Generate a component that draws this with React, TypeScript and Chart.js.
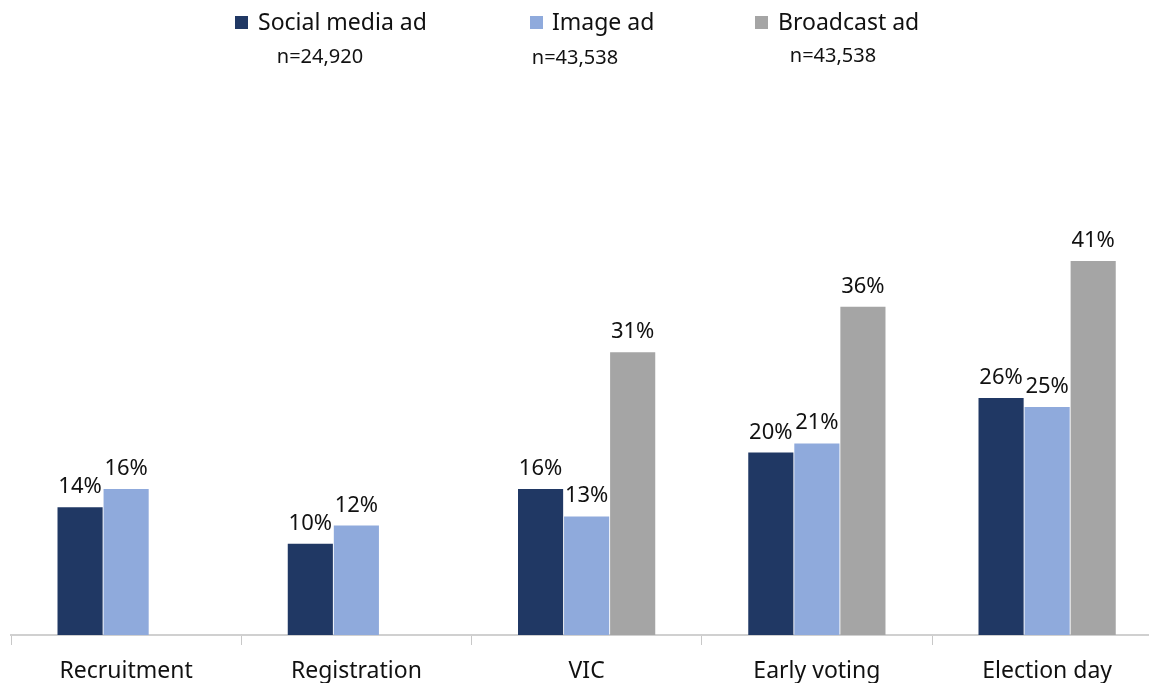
import React, { useEffect, useRef } from "react";
import { Chart, registerables } from "chart.js";

Chart.register(...registerables);

const categories = ["Recruitment", "Registration", "VIC", "Early voting", "Election day"];
const seriesNames = ["Social media ad", "Image ad", "Broadcast ad"];
const socialMedia = [14, 10, 16, 20, 26];
const imageAd = [16, 12, 13, 21, 25];
const broadcastAd = [null, null, 31, 36, 41];
const sampleSizes = ["n=24,920", "n=43,538", "n=43,538"];

const COLORS = ["#203864", "#8FAADC", "#A5A5A5"];
const FONT = "'Noto Sans', 'DejaVu Sans', sans-serif";
const TEXT = "#111111";

// layout constants (not data)
const CANVAS_W = 1175;
const CANVAS_H = 683;
const LEGEND_BOX_X = [235, 530, 755];
const LEGEND_TEXT_X = [258, 552, 778];
const LEGEND_BASELINE = 30;
const N_CENTER_X = [320, 575, 833];
const N_BASELINE = [63, 64, 62];

const legendPlugin = {
  id: "customLegend",
  afterDraw(chart: any) {
    const ctx = chart.ctx;
    ctx.save();
    chart.data.datasets.forEach((ds: any, i: number) => {
      ctx.fillStyle = ds.backgroundColor;
      ctx.fillRect(LEGEND_BOX_X[i], 16, 13, 13);
      ctx.fillStyle = TEXT;
      ctx.font = `23px ${FONT}`;
      ctx.textAlign = "left";
      ctx.textBaseline = "alphabetic";
      ctx.fillText(ds.label, LEGEND_TEXT_X[i], LEGEND_BASELINE);
      ctx.font = `20px ${FONT}`;
      ctx.textAlign = "center";
      ctx.fillText(sampleSizes[i], N_CENTER_X[i], N_BASELINE[i]);
    });
    ctx.restore();
  },
};

const valueLabelPlugin = {
  id: "valueLabels",
  afterDatasetsDraw(chart: any) {
    const ctx = chart.ctx;
    ctx.save();
    ctx.font = `22px ${FONT}`;
    ctx.fillStyle = TEXT;
    ctx.textAlign = "center";
    ctx.textBaseline = "alphabetic";
    chart.data.datasets.forEach((ds: any, i: number) => {
      const meta = chart.getDatasetMeta(i);
      meta.data.forEach((el: any, j: number) => {
        const v = ds.data[j];
        if (v === null || v === undefined) return;
        ctx.fillText(`${v}%`, el.x, el.y - 14);
      });
    });
    ctx.restore();
  },
};

export default function App() {
  const canvasRef = useRef<HTMLCanvasElement | null>(null);

  useEffect(() => {
    if (!canvasRef.current) return;
    const seriesData = [socialMedia, imageAd, broadcastAd];
    const chart = new Chart(canvasRef.current, {
      type: "bar",
      data: {
        labels: categories,
        datasets: seriesNames.map((name, i) => ({
          label: name,
          data: seriesData[i],
          backgroundColor: COLORS[i],
          borderWidth: 0,
          categoryPercentage: 0.6,
          barPercentage: 0.98,
        })),
      },
      options: {
        responsive: false,
        animation: false,
        layout: { padding: { top: 179, left: 11, right: CANVAS_W - 1162.25, bottom: 0 } },
        plugins: {
          legend: { display: false },
          tooltip: { enabled: false },
        },
        scales: {
          x: {
            grid: {
              display: true,
              drawOnChartArea: false,
              drawTicks: true,
              tickLength: 10,
              color: "#c8c8c8",
              lineWidth: 1,
              offset: true,
            },
            border: { display: true, color: "#d0d0d0", width: 2 },
            ticks: {
              font: { family: FONT, size: 23 },
              color: TEXT,
              padding: 13,
              maxRotation: 0,
            },
            afterFit: (scale: any) => {
              scale.height = CANVAS_H - 635;
            },
          },
          y: {
            display: false,
            min: 0,
            max: 50,
          },
        },
      },
      plugins: [valueLabelPlugin, legendPlugin],
    });
    return () => chart.destroy();
  }, []);

  return (
    <div
      style={{
        position: "fixed",
        left: 0,
        top: 0,
        width: 1149,
        height: 683,
        overflow: "hidden",
        background: "#ffffff",
      }}
    >
      <canvas ref={canvasRef} width={CANVAS_W} height={CANVAS_H} style={{ display: "block" }} />
    </div>
  );
}
